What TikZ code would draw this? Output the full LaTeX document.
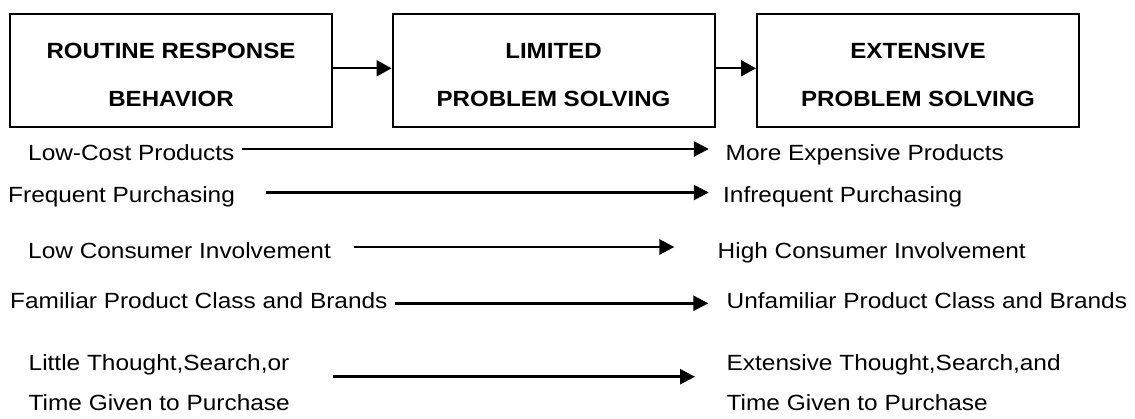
\documentclass[tikz,border=0pt]{standalone}
\usepackage{fontspec}
\setmainfont{Liberation Sans}
\newfontfamily\fC[FakeStretch=1.11]{Liberation Sans}
\newfontfamily\fD[FakeStretch=1.095]{Liberation Sans}
\usetikzlibrary{arrows.meta}
\begin{document}
\begin{tikzpicture}[x=1pt,y=-1pt,
  box/.style={draw=black,line width=2pt,minimum width=322pt,minimum height=113pt,inner sep=0pt},
  boxtxt/.style={inner sep=0pt,anchor=base,font=\fD\fontsize{22}{26}\selectfont\bfseries},
  txt/.style={inner sep=0pt,anchor=base west,font=\fC\fontsize{22}{26}\selectfont},
  conn/.style={line width=2.3pt,-{Triangle[length=15pt,width=16pt]}},
  rowarr/.style={line width=2.5pt,-{Triangle[length=15pt,width=15pt]}}]
\useasboundingbox (0,0) rectangle (1135,418);
% boxes
\node[box] (b1) at (171,70.5) {};
\node[box] (b2) at (553.5,70.5) {};
\node[box] (b3) at (918,70.5) {};
\node[boxtxt] (b1a) at (171,58.3) {ROUTINE RESPONSE};
\node[boxtxt] (b1b) at (171,106) {BEHAVIOR};
\node[boxtxt] (b2a) at (553.5,58.3) {LIMITED};
\node[boxtxt] (b2b) at (553.5,106) {PROBLEM SOLVING};
\node[boxtxt] (b3a) at (918,58.3) {EXTENSIVE};
\node[boxtxt] (b3b) at (918,106) {PROBLEM SOLVING};
\draw[conn] ([yshift=2.2pt]b1.east) -- ([yshift=2.2pt]b2.west);
\draw[conn] ([yshift=2.2pt]b2.east) -- ([yshift=2.2pt]b3.west);
% rows
\node[txt] (l1) at (28,160.7) {Low-Cost Products};
\node[txt] (r1) at (725.5,160.7) {More Expensive Products};
\node[txt] (l2) at (8,202.7) {Frequent Purchasing};
\node[txt] (r2) at (723,202.7) {Infrequent Purchasing};
\node[txt] (l3) at (28,258.3) {Low Consumer Involvement};
\node[txt] (r3) at (717.5,258.3) {High Consumer Involvement};
\node[txt] (l4) at (10,308) {Familiar Product Class and Brands};
\node[txt] (r4) at (726.5,308) {Unfamiliar Product Class and Brands};
\node[txt] (l5a) at (28.5,370) {Little Thought,Search,or};
\node[txt] (l5b) at (28.5,410.5) {Time Given to Purchase};
\node[txt] (r5a) at (726.5,370) {Extensive Thought,Search,and};
\node[txt] (r5b) at (726.5,410.5) {Time Given to Purchase};
\coordinate (s1) at (242.4,149); \coordinate (e1) at (708.8,149);
\coordinate (s2) at (266,192.5); \coordinate (e2) at (708.8,192.5);
\coordinate (s3) at (354,247); \coordinate (e3) at (674.4,247);
\coordinate (s4) at (395,303.3); \coordinate (e4) at (708.3,303.3);
\coordinate (s5) at (333.3,376.7); \coordinate (e5) at (695,376.7);
\draw[rowarr] (s1) -- (e1);
\draw[rowarr] (s2) -- (e2);
\draw[rowarr] (s3) -- (e3);
\draw[rowarr] (s4) -- (e4);
\draw[rowarr] (s5) -- (e5);
\end{tikzpicture}
\end{document}
